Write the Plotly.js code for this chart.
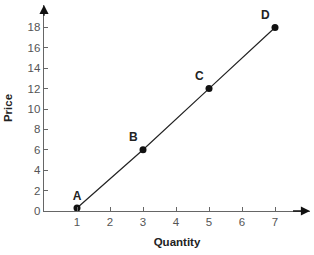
<!DOCTYPE html>
<html><head><meta charset="utf-8">
<script src="https://cdn.plot.ly/plotly-3.0.1.min.js"></script>
<style>html,body{margin:0;padding:0;background:#fff}#c{width:314px;height:255px}</style>
</head><body><div id="c"></div>
<script>
const labels = ['A','B','C','D'];
const quantity = [1, 3, 5, 7];
const price = [0.3, 6, 12, 18];
const xTicks = [1,2,3,4,5,6,7];
const yTicks = [0,2,4,6,8,10,12,14,16,18];

const trace = {
  x: quantity, y: price, mode: 'lines+markers+text', type: 'scatter',
  text: labels, textposition: ['top center','top left','top left','top left'],
  textfont: {family: 'Arial, Liberation Sans, sans-serif', size: 12, color: '#222', weight: 'bold'},
  line: {color: '#222', width: 1.2},
  marker: {color: '#111', size: 7},
  cliponaxis: false, hoverinfo: 'none'
};
const axisCommon = {
  showgrid: false, zeroline: false, showline: true, linecolor: '#666', linewidth: 1.3,
  ticks: 'inside', ticklen: 4, tickcolor: '#666', tickwidth: 1,
  tickfont: {family: 'Arial, Liberation Sans, sans-serif', size: 11.5, color: '#555'},
  fixedrange: true
};
const layout = {
  width: 314, height: 255,
  margin: {l: 44, r: 4, t: 5, b: 44},
  paper_bgcolor: '#fff', plot_bgcolor: '#fff', showlegend: false,
  xaxis: Object.assign({}, axisCommon, {range: [0, 8.06], tickvals: xTicks,
    title: {text: 'Quantity', font: {family: 'Arial, Liberation Sans, sans-serif', size: 11.5, color: '#222', weight: 'bold'}, standoff: 11}}),
  yaxis: Object.assign({}, axisCommon, {range: [0, 20.2], tickvals: yTicks,
    title: {text: 'Price', font: {family: 'Arial, Liberation Sans, sans-serif', size: 11.5, color: '#222', weight: 'bold'}, standoff: 12}}),
  annotations: [
    {x: 8.06, y: 0, ax: 7.5, ay: 0, xref: 'x', yref: 'y', axref: 'x', ayref: 'y', text: '', showarrow: true, arrowhead: 2, arrowsize: 1.3, arrowwidth: 1.4, arrowcolor: '#111'},
    {x: 0, y: 20.2, ax: 0, ay: 19, xref: 'x', yref: 'y', axref: 'x', ayref: 'y', text: '', showarrow: true, arrowhead: 2, arrowsize: 1.3, arrowwidth: 1.4, arrowcolor: '#111'}
  ]
};
Plotly.newPlot('c', [trace], layout, {staticPlot: true, displayModeBar: false});
</script></body></html>
